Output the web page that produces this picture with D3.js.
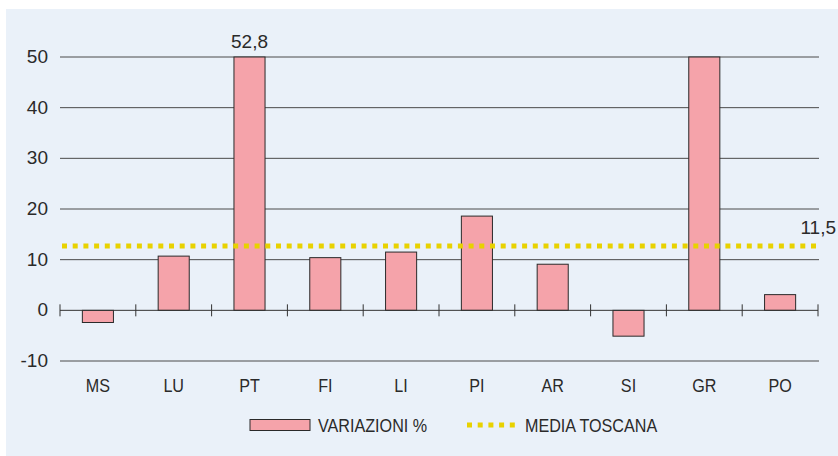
<!DOCTYPE html>
<html>
<head>
<meta charset="utf-8">
<script src="https://cdn.jsdelivr.net/npm/d3@7"></script>
<style>
  body { margin: 0; background: #fff; }
  svg text { font-family: "Liberation Sans", Arial, sans-serif; fill: #2a2a2a; font-size: 19px; }
</style>
</head>
<body>
<script>
// data
var a_province = ["MS", "LU", "PT", "FI", "LI", "PI", "AR", "SI", "GR", "PO"];
var a_variazioni = [-2.4, 10.7, 52.8, 10.4, 11.5, 18.6, 9.1, -5.1, 50.0, 3.1];
var a_y_ticks = [-10, 0, 10, 20, 30, 40, 50];
var v_media_line = 12.7;
var v_media_label = "11,5";
var v_pt_label = "52,8";

const v_width = 838, v_height = 456;
const v_narrow = 0.85;

var svg = d3.select("body").append("svg")
    .attr("width", v_width)
    .attr("height", v_height);

// text helper, letters are condensed, digits are not
function add_text(sel, px, py, txt, anchor, sx) {
    return sel.append("text")
        .attr("transform", `translate(${px},${py}) scale(${sx || 1},1)`)
        .attr("text-anchor", anchor || "start")
        .text(txt);
}

// panel
svg.append("rect")
    .attr("x", 6).attr("y", 9)
    .attr("width", v_width - 6).attr("height", v_height - 9)
    .attr("fill", "#eaf1f9");

var x = d3.scaleBand().domain(a_province).range([60, 818]).paddingInner(0.59).paddingOuter(0.295);
var xb = d3.scaleBand().domain(a_province).range([60, 818]);
var y = d3.scaleLinear().domain([-10, 50]).range([361, 57]);

var g = svg.append("g");

// gridlines
g.selectAll(".grid")
    .data(a_y_ticks.filter(function(d) { return d != 0; }))
    .enter().append("line")
    .attr("x1", 60).attr("x2", 819)
    .attr("y1", function(d) { return y(d); })
    .attr("y2", function(d) { return y(d); })
    .attr("stroke", "#4a4a4a")
    .attr("stroke-width", 1);

// y labels
a_y_ticks.forEach(function(d) {
    add_text(g, 48, y(d) + 6, d, "end");
});

// bars
g.selectAll(".bar")
    .data(a_variazioni)
    .enter().append("rect")
    .attr("x", function(d, i) { return x(a_province[i]); })
    .attr("width", x.bandwidth())
    .attr("y", function(d) { return y(Math.min(50, Math.max(d, 0))); })
    .attr("height", function(d) { return Math.abs(y(Math.min(50, d)) - y(0)); })
    .attr("fill", "#f5a3aa")
    .attr("stroke", "#2a2a2a")
    .attr("stroke-width", 1);

// zero axis with ticks
var x_axis = d3.axisBottom(xb).tickSize(0).tickFormat("");
g.append("g")
    .attr("transform", `translate(0, ${y(0)})`)
    .call(x_axis)
    .call(function(s) {
        s.select(".domain").attr("stroke", "#333").attr("d", "M60,0H818");
    });
var a_edges = a_province.map(function(p) { return xb(p); }).concat([818]);
g.selectAll(".tick0")
    .data(a_edges)
    .enter().append("line")
    .attr("x1", function(d) { return d; }).attr("x2", function(d) { return d; })
    .attr("y1", y(0) - 6).attr("y2", y(0) + 6)
    .attr("stroke", "#333");

// x labels
a_province.forEach(function(d) {
    add_text(g, xb(d) + xb.bandwidth() / 2, 392, d, "middle", v_narrow);
});

// PT label
add_text(g, x("PT") + x.bandwidth() / 2, 48, v_pt_label, "middle");

// media toscana
g.append("line")
    .attr("x1", 62).attr("x2", 818)
    .attr("y1", y(v_media_line)).attr("y2", y(v_media_line))
    .attr("stroke", "#e8d200")
    .attr("stroke-width", 5)
    .attr("stroke-dasharray", "5,5.7");
add_text(g, 836, 234, v_media_label, "end");

// legend
var lg = svg.append("g");
lg.append("rect")
    .attr("x", 250).attr("y", 419.5)
    .attr("width", 60).attr("height", 11)
    .attr("fill", "#f5a3aa").attr("stroke", "#2a2a2a");
add_text(lg, 318, 432, "VARIAZIONI %", "start", v_narrow);
lg.append("line")
    .attr("x1", 467).attr("x2", 516)
    .attr("y1", 425).attr("y2", 425)
    .attr("stroke", "#e8d200")
    .attr("stroke-width", 5)
    .attr("stroke-dasharray", "5,5.7");
add_text(lg, 525, 432, "MEDIA TOSCANA", "start", v_narrow);
</script>
</body>
</html>
